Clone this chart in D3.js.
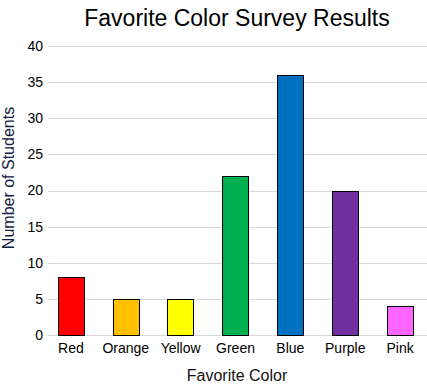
<!DOCTYPE html>
<html>
<head>
<meta charset="utf-8">
<script src="https://cdn.jsdelivr.net/npm/d3@7"></script>
<style>
  body { margin: 0; background: #fff; }
  svg { display: block; font-family: "Liberation Sans", Arial, sans-serif; }
</style>
</head>
<body>
<svg id="chart"></svg>
<script>
const colors = ["Red", "Orange", "Yellow", "Green", "Blue", "Purple", "Pink"];
const students = [8, 5, 5, 22, 36, 20, 4];
const fills = ["#ff0000", "#ffc000", "#ffff00", "#00b050", "#0070c0", "#7030a0", "#ff66ff"];
const yTicks = [0, 5, 10, 15, 20, 25, 30, 35, 40];

const width = 427, height = 384;
const svg = d3.select("#chart").attr("width", width).attr("height", height);

const x = d3.scaleBand().domain(colors).range([44, 427]).paddingInner(0.52).paddingOuter(0.25);
const y = d3.scaleLinear().domain([0, 40]).range([335, 46]);

// grid lines
svg.append("g")
  .selectAll("line")
  .data(yTicks)
  .join("line")
  .attr("x1", 48).attr("x2", width)
  .attr("y1", d => Math.round(y(d)) + 0.5)
  .attr("y2", d => Math.round(y(d)) + 0.5)
  .attr("stroke", "#d9d9d9")
  .attr("stroke-width", 1);

// y tick labels
const yAxis = svg.append("g")
  .attr("transform", "translate(48,0)")
  .call(d3.axisLeft(y).tickValues(yTicks).tickSize(0).tickPadding(5));
yAxis.select(".domain").remove();
yAxis.selectAll("text").attr("font-size", 14).attr("fill", "#000").attr("font-family", "Liberation Sans, Arial, sans-serif");

// bars
svg.append("g")
  .selectAll("rect")
  .data(colors)
  .join("rect")
  .attr("x", d => Math.round(x(d)) + 0.5)
  .attr("y", (d, i) => Math.round(y(students[i])) + 0.5)
  .attr("width", Math.round(x.bandwidth()))
  .attr("height", (d, i) => Math.round(y(0)) - Math.round(y(students[i])))
  .attr("fill", (d, i) => fills[i])
  .attr("stroke", "#000")
  .attr("stroke-width", 1);

// x tick labels
const xAxis = svg.append("g")
  .attr("transform", "translate(0,335)")
  .call(d3.axisBottom(x).tickSize(0).tickPadding(8));
xAxis.select(".domain").remove();
xAxis.selectAll("text").attr("font-size", 14).attr("fill", "#000").attr("font-family", "Liberation Sans, Arial, sans-serif");

// title
svg.append("text")
  .attr("x", 237).attr("y", 26)
  .attr("text-anchor", "middle")
  .attr("font-size", 23)
  .attr("fill", "#000")
  .text("Favorite Color Survey Results");

// axis titles
svg.append("text")
  .attr("x", 237).attr("y", 381)
  .attr("text-anchor", "middle")
  .attr("font-size", 16)
  .attr("fill", "#111")
  .text("Favorite Color");

svg.append("text")
  .attr("transform", "translate(14,178) rotate(-90)")
  .attr("text-anchor", "middle")
  .attr("font-size", 16)
  .attr("fill", "#102040")
  .text("Number of Students");
</script>
</body>
</html>
